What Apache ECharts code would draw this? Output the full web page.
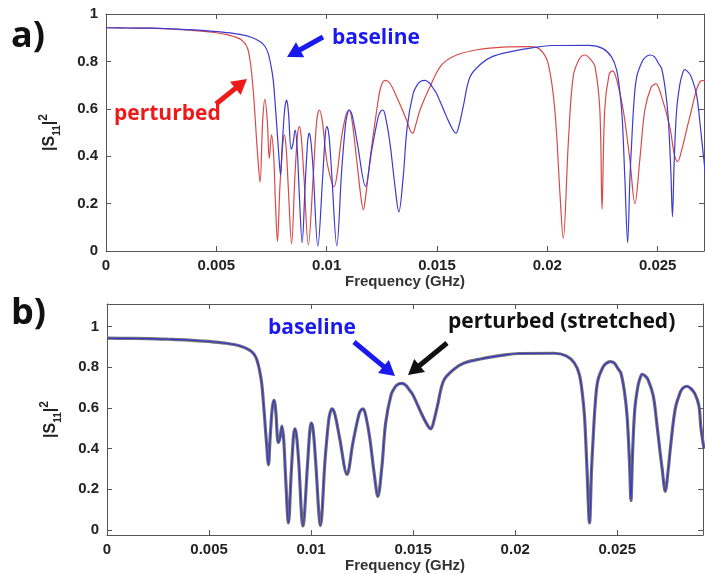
<!DOCTYPE html>
<html><head><meta charset="utf-8">
<script src="https://cdn.jsdelivr.net/npm/echarts@6/dist/echarts.min.js"></script>
<style>html,body{margin:0;padding:0;background:#fff}#c{width:705px;height:574px}</style>
</head><body><div id="c"></div>
<script>
// ---- data (frequency in GHz, |S11|^2) ----
const baselineFreq = [0,0.001,0.002,0.003,0.004,0.005,0.00577,0.00652,0.00698,0.0072,0.00735,0.00748,0.00758,0.00766,0.00773,0.00782,0.00791,0.00799,0.00808,0.00813,0.00818,0.00823,0.00828,0.00839,0.00847,0.00857,0.00866,0.00875,0.00889,0.00902,0.00912,0.00916,0.00921,0.00926,0.00931,0.00939,0.0096,0.00982,0.00993,0.01,0.01007,0.01014,0.01022,0.01046,0.01068,0.01085,0.01093,0.01102,0.01113,0.01125,0.0114,0.01176,0.01205,0.01234,0.01245,0.01255,0.01268,0.01287,0.0131,0.01327,0.01347,0.01365,0.01392,0.0141,0.01425,0.01445,0.01465,0.0148,0.01498,0.01543,0.0157,0.01586,0.016,0.01619,0.0165,0.017,0.0175,0.0183,0.0195,0.0202,0.0219,0.0225,0.0229,0.02314,0.0233,0.0234,0.02351,0.02364,0.02374,0.02382,0.02392,0.02405,0.0243,0.02445,0.02465,0.02485,0.02505,0.02518,0.02535,0.02548,0.0256,0.02567,0.02575,0.02586,0.026,0.0261,0.02622,0.02635,0.0265,0.02676,0.02694,0.0271,0.0272,0.02735,0.0275,0.0276,0.02784,0.0281,0.02825,0.02842,0.0286,0.0288,0.029,0.0291,0.02925];
const baselineS11 = [0.942,0.941,0.94,0.937,0.933,0.926,0.918,0.904,0.884,0.864,0.834,0.78,0.72,0.63,0.54,0.42,0.32,0.45,0.58,0.62,0.637,0.62,0.57,0.43,0.45,0.51,0.44,0.26,0.035,0.27,0.44,0.48,0.497,0.48,0.44,0.34,0.02,0.314,0.48,0.525,0.51,0.45,0.34,0.022,0.34,0.53,0.575,0.595,0.58,0.53,0.45,0.273,0.43,0.567,0.59,0.595,0.56,0.454,0.27,0.165,0.314,0.524,0.665,0.7,0.715,0.72,0.71,0.69,0.665,0.567,0.515,0.497,0.53,0.61,0.735,0.79,0.82,0.84,0.86,0.867,0.868,0.855,0.82,0.764,0.66,0.55,0.314,0.035,0.3,0.454,0.62,0.735,0.8,0.818,0.827,0.82,0.79,0.77,0.68,0.56,0.33,0.145,0.38,0.595,0.7,0.74,0.765,0.758,0.74,0.66,0.52,0.38,0.3,0.19,0.3,0.4,0.595,0.68,0.7,0.706,0.695,0.67,0.61,0.5,0.4];
const perturbedFreq = [0,0.001,0.002,0.003,0.004,0.005,0.00547,0.0058,0.00607,0.00625,0.00637,0.00645,0.00652,0.0066,0.00668,0.00676,0.00686,0.00698,0.0071,0.0072,0.00731,0.0074,0.0075,0.0076,0.00768,0.00777,0.00788,0.008,0.00808,0.00816,0.00826,0.00841,0.00856,0.00868,0.00876,0.00884,0.00897,0.00917,0.00939,0.00955,0.00967,0.0098,0.01,0.0102,0.01033,0.01045,0.01068,0.01088,0.01101,0.01115,0.01136,0.01155,0.01166,0.01178,0.01196,0.01227,0.01245,0.01264,0.01285,0.01317,0.01362,0.01378,0.0139,0.01403,0.01423,0.01468,0.01521,0.01589,0.01695,0.018,0.01921,0.01966,0.02004,0.02034,0.02057,0.02072,0.02095,0.02117,0.02145,0.0217,0.02195,0.02216,0.02238,0.02248,0.0226,0.0228,0.02296,0.02315,0.02344,0.02374,0.02397,0.02419,0.02442,0.0247,0.02492,0.02515,0.02555,0.02575,0.0259,0.0261,0.02646,0.02692,0.0272];
const perturbedS11 = [0.942,0.941,0.94,0.936,0.93,0.921,0.913,0.905,0.895,0.881,0.865,0.845,0.81,0.75,0.67,0.56,0.42,0.29,0.55,0.64,0.55,0.39,0.49,0.4,0.2,0.04,0.27,0.44,0.49,0.44,0.27,0.03,0.314,0.49,0.525,0.49,0.314,0.025,0.314,0.55,0.595,0.55,0.384,0.3,0.27,0.31,0.482,0.575,0.595,0.55,0.384,0.23,0.173,0.24,0.384,0.595,0.69,0.72,0.71,0.651,0.553,0.51,0.497,0.53,0.595,0.693,0.785,0.827,0.851,0.86,0.862,0.851,0.79,0.595,0.245,0.053,0.455,0.735,0.81,0.827,0.81,0.778,0.595,0.176,0.595,0.745,0.76,0.72,0.595,0.384,0.2,0.384,0.595,0.69,0.705,0.66,0.524,0.41,0.377,0.43,0.567,0.715,0.72];
// perturbed after frequency stretching: coincides with the baseline trace
const stretchedFreq = baselineFreq;
const stretchedS11 = baselineS11;
const xTicks = [0,0.005,0.01,0.015,0.02,0.025];
const yTicks = [0,0.2,0.4,0.6,0.8,1];

function pairs(f, v){ return f.map((x,i)=>[x,v[i]]); }

const chart = echarts.init(document.getElementById('c'), null, {renderer:'canvas'});
const axisCol = '#555';
const lblStyle = {color:'#222', fontSize:15, fontWeight:'bold', fontFamily:'Liberation Sans, Arial, sans-serif'};

function xAxisPair(gi, max, nameGap){
  return [{
    type:'value', gridIndex:gi, min:0, max:max, position:'bottom',
    axisLine:{onZero:false, lineStyle:{color:axisCol}},
    axisTick:{inside:true, length:5, customValues:xTicks, lineStyle:{color:axisCol}},
    axisLabel:Object.assign({customValues:xTicks, margin:7}, lblStyle),
    splitLine:{show:false},
    name:'Frequency (GHz)', nameLocation:'middle', nameGap:nameGap,
    nameTextStyle:{color:'#333', fontSize:15, fontWeight:'bold', fontFamily:'Liberation Sans, Arial, sans-serif'}
  },{
    type:'value', gridIndex:gi, min:0, max:max, position:'top',
    axisLine:{onZero:false, lineStyle:{color:axisCol}},
    axisTick:{inside:true, length:5, customValues:xTicks, lineStyle:{color:axisCol}},
    axisLabel:{show:false}, splitLine:{show:false}
  }];
}
function yAxisPair(gi, min, max){
  return [{
    type:'value', gridIndex:gi, min:min, max:max, position:'left',
    axisLine:{onZero:false, lineStyle:{color:axisCol}},
    axisTick:{inside:true, length:5, customValues:yTicks, lineStyle:{color:axisCol}},
    axisLabel:Object.assign({customValues:yTicks, margin:8}, lblStyle),
    splitLine:{show:false},
    name:'|S{sub|11}|{sup|2}', nameLocation:'middle', nameGap:44, nameRotate:90,
    nameTextStyle:{color:'#222', fontSize:16, fontWeight:'bold', lineHeight:24,
      fontFamily:'Liberation Sans, Arial, sans-serif',
      rich:{
        sub:{fontSize:10, fontWeight:'bold', lineHeight:10, verticalAlign:'bottom', color:'#222', fontFamily:'Liberation Sans, Arial, sans-serif'},
        sup:{fontSize:12, fontWeight:'bold', lineHeight:12, verticalAlign:'top', color:'#222', fontFamily:'Liberation Sans, Arial, sans-serif'}
      }}
  },{
    type:'value', gridIndex:gi, min:min, max:max, position:'right',
    axisLine:{onZero:false, lineStyle:{color:axisCol}},
    axisTick:{inside:true, length:5, customValues:yTicks, lineStyle:{color:axisCol}},
    axisLabel:{show:false}, splitLine:{show:false}
  }];
}

function arrow(x1,y1,x2,y2,color,w,hl,hw){
  const dx=x2-x1, dy=y2-y1, L=Math.hypot(dx,dy), ux=dx/L, uy=dy/L, nx=-uy, ny=ux;
  const bx=x2-ux*hl, by=y2-uy*hl;
  const pts=[[x1+nx*w/2,y1+ny*w/2],[bx+nx*w/2,by+ny*w/2],[bx+nx*hw/2,by+ny*hw/2],[x2,y2],
             [bx-nx*hw/2,by-ny*hw/2],[bx-nx*w/2,by-ny*w/2],[x1-nx*w/2,y1-ny*w/2]];
  return {type:'polygon', shape:{points:pts}, style:{fill:color}, silent:true};
}
const annFont = 'bold 21px "Open Sans", sans-serif';
const panelFont = 'bold 36px "Open Sans", sans-serif';
const sm = 0.35;

chart.setOption({
  animation:false,
  backgroundColor:'#fff',
  grid:[
    {left:106, top:14, width:598, height:237},
    {left:107, top:304, width:596, height:233}
  ],
  xAxis:[...xAxisPair(0, 0.0271, 23), ...xAxisPair(1, 0.0292, 19)],
  yAxis:[...yAxisPair(0, 0, 1), ...yAxisPair(1, -0.025, 1.11)],
  series:[
    {type:'line', xAxisIndex:0, yAxisIndex:0, data:pairs(perturbedFreq, perturbedS11), showSymbol:false,
     smooth:sm, lineStyle:{color:'#d84a4a', width:1.2}, itemStyle:{color:'#d84a4a'}},
    {type:'line', xAxisIndex:0, yAxisIndex:0, data:pairs(baselineFreq, baselineS11), showSymbol:false,
     smooth:sm, lineStyle:{color:'#3b3bd0', width:1.2}, itemStyle:{color:'#3b3bd0'}},
    {type:'line', xAxisIndex:2, yAxisIndex:2, data:pairs(stretchedFreq, stretchedS11), showSymbol:false,
     smooth:sm, lineStyle:{color:'#707070', width:3.2}, itemStyle:{color:'#707070'}},
    {type:'line', xAxisIndex:2, yAxisIndex:2, data:pairs(baselineFreq, baselineS11), showSymbol:false,
     smooth:sm, lineStyle:{color:'#3434d8', width:1.1}, itemStyle:{color:'#3434d8'}}
  ],
  graphic:[
    {type:'text', left:11, top:19, style:{text:'a)', font:panelFont, fill:'#111'}},
    {type:'text', left:11, top:296, style:{text:'b)', font:panelFont, fill:'#111'}},
    {type:'text', left:332, top:28, style:{text:'baseline', font:annFont, fill:'#1a1aee'}},
    arrow(323,37,287,57,'#1a1aee',5,15,17),
    {type:'text', left:114, top:104, style:{text:'perturbed', font:annFont, fill:'#ee1a1a'}},
    arrow(216,104,247,79,'#ee1a1a',5,15,17),
    {type:'text', left:268, top:318, style:{text:'baseline', font:annFont, fill:'#1a1aee'}},
    arrow(354,342,395,376,'#1a1aee',5,15,17),
    {type:'text', left:448, top:312, style:{text:'perturbed (stretched)', font:annFont, fill:'#111'}},
    arrow(447,343,408,375,'#111',5,15,17)
  ]
});
</script></body></html>
